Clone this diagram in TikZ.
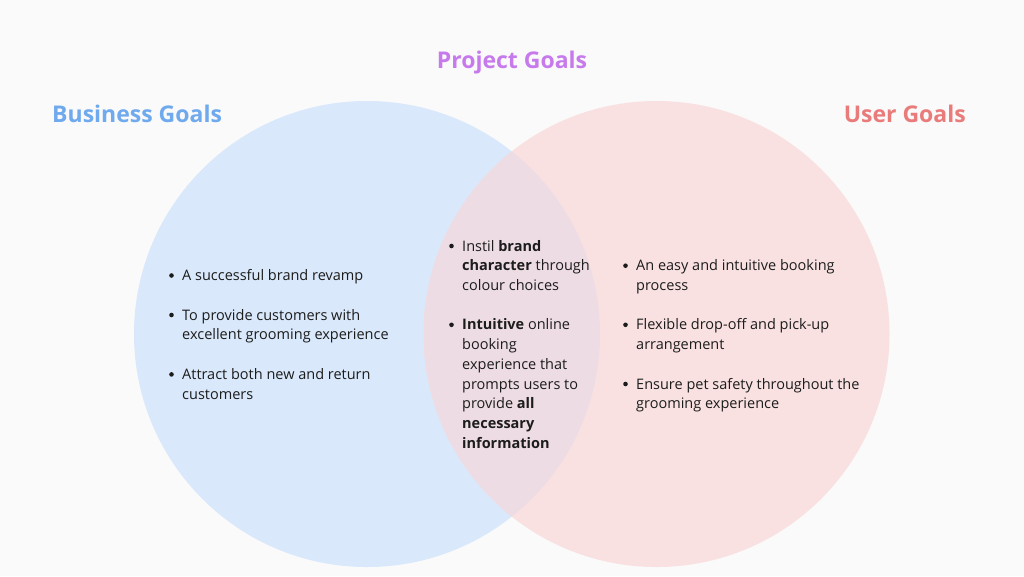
\documentclass[tikz,border=0pt]{standalone}
\usepackage{fontspec}
\setmainfont{Open Sans}
\usepackage{tikz}
\usetikzlibrary{positioning}
\definecolor{bgpage}{HTML}{FAFAFA}
\definecolor{bizfill}{HTML}{D9E8FA}
\definecolor{userfill}{HTML}{F9E1E2}
\definecolor{bothfill}{HTML}{EDDCE3}
\definecolor{bizblue}{HTML}{6FA9EE}
\definecolor{userred}{HTML}{E97B7B}
\definecolor{projpurple}{HTML}{C67AEB}
\definecolor{ink}{HTML}{1C1C1C}
\tikzset{
  heading/.style={font=\fontsize{23}{28}\selectfont\bfseries, inner sep=0pt},
  goal/.style={font=\fontsize{14.5}{19.7}\selectfont, text=ink,
    align=left, inner sep=0pt, anchor=north west},
  bullet/.style={fill=ink}
}

\begin{document}
\begin{tikzpicture}[x=1pt, y=-1pt]
  \fill[bgpage] (0,0) rectangle (1024,576);
  \useasboundingbox (0,0) rectangle (1024,576);

  % the two sets
  \coordinate (bizc) at (367,334);
  \coordinate (userc) at (656.5,334);
  \fill[bizfill] (bizc) circle (233pt);
  \fill[userfill] (userc) circle (233pt);
  \begin{scope}
    \clip (bizc) circle (233pt);
    \fill[bothfill] (userc) circle (233pt);
  \end{scope}

  % titles
  \node[heading, text=projpurple, anchor=base] (proj) at (512,68.3) {Project Goals};
  \node[heading, text=bizblue, anchor=base west] (biz) at (52,122.3) {Business Goals};
  \node[heading, text=userred, anchor=base east] (user) at (966,122.3) {User Goals};

  % business goals
  \node[goal] (b1) at (182,266.7) {\strut A successful brand revamp};
  \node[goal] (b2) at (182,306.2) {\strut To provide customers with\\excellent grooming experience};
  \node[goal] (b3) at (182,365.6) {\strut Attract both new and return\\customers};

  % shared goals
  \node[goal] (m1) at (462,237.2) {\strut Instil \textbf{brand}\\\textbf{character} through\\colour choices};
  \node[goal] (m2) at (462,316) {\strut\textbf{Intuitive} online\\booking\\experience that\\prompts users to\\provide \textbf{all}\\\textbf{necessary}\\\textbf{information}};

  % user goals
  \node[goal] (u1) at (636,256.9) {\strut An easy and intuitive booking\\process};
  \node[goal] (u2) at (636,316) {\strut Flexible drop-off and pick-up\\arrangement};
  \node[goal] (u3) at (636,375.2) {\strut Ensure pet safety throughout the\\grooming experience};

  \foreach \n in {b1,b2,b3,m1,m2,u1,u2,u3}
    \fill[bullet] ([xshift=-10.5pt, yshift=-8.8pt]\n.north west) circle (2.3pt);
\end{tikzpicture}
\end{document}
